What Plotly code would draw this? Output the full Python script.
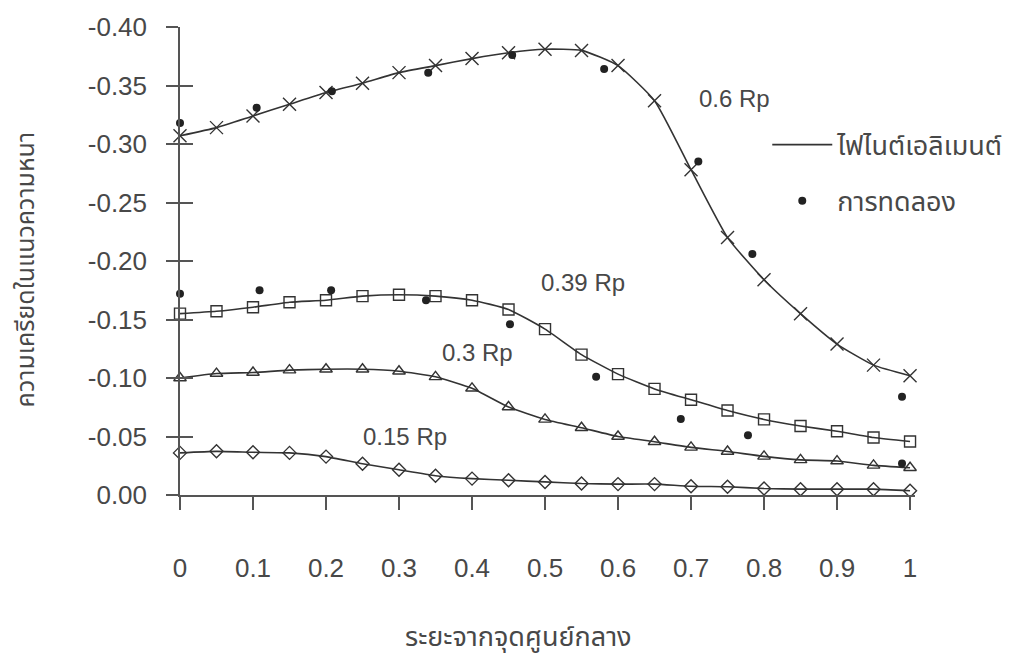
import plotly.graph_objects as go

# ---------------- data ----------------
x_fe = [0.0, 0.05, 0.1, 0.15, 0.2, 0.25, 0.3, 0.35, 0.4, 0.45, 0.5,
        0.55, 0.6, 0.65, 0.7, 0.75, 0.8, 0.85, 0.9, 0.95, 1.0]

fe_06 = [-0.307, -0.314, -0.324, -0.334, -0.344, -0.352, -0.361, -0.367, -0.373, -0.378, -0.381,
         -0.380, -0.367, -0.337, -0.278, -0.220, -0.184, -0.155, -0.129, -0.111, -0.102]
fe_039 = [-0.155, -0.157, -0.1605, -0.1648, -0.1665, -0.170, -0.1712, -0.170, -0.1665, -0.1586, -0.1418,
          -0.120, -0.1033, -0.0907, -0.0814, -0.0722, -0.0646, -0.059, -0.0545, -0.0491, -0.0457]
fe_03 = [-0.100, -0.1038, -0.1047, -0.1067, -0.1075, -0.1075, -0.1058, -0.101, -0.0912, -0.0752, -0.0646,
         -0.0575, -0.050, -0.0455, -0.0407, -0.0372, -0.033, -0.030, -0.029, -0.0253, -0.0233]
fe_015 = [-0.036, -0.0373, -0.0365, -0.036, -0.0328, -0.0267, -0.0216, -0.0165, -0.014, -0.0126, -0.0112,
          -0.0098, -0.0093, -0.0093, -0.0075, -0.007, -0.0056, -0.005, -0.005, -0.005, -0.0036]

exp_x = [0.0, 0.105, 0.208, 0.34, 0.455, 0.581, 0.710, 0.784, 0.989,
         0.0, 0.109, 0.207, 0.337, 0.452, 0.570, 0.686, 0.778, 0.989]
exp_y = [-0.318, -0.331, -0.345, -0.361, -0.376, -0.364, -0.285, -0.206, -0.084,
         -0.172, -0.175, -0.175, -0.1665, -0.146, -0.101, -0.065, -0.051, -0.027]

curve_names = ["0.6 Rp", "0.39 Rp", "0.3 Rp", "0.15 Rp"]
legend_names = ["ไฟไนต์เอลิเมนต์", "การทดลอง"]

x_tick_vals = [0, 0.1, 0.2, 0.3, 0.4, 0.5, 0.6, 0.7, 0.8, 0.9, 1.0]
x_tick_text = ["0", "0.1", "0.2", "0.3", "0.4", "0.5", "0.6", "0.7", "0.8", "0.9", "1"]
y_tick_vals = [0.0, -0.05, -0.10, -0.15, -0.20, -0.25, -0.30, -0.35, -0.40]
y_tick_text = ["0.00", "-0.05", "-0.10", "-0.15", "-0.20", "-0.25", "-0.30", "-0.35", "-0.40"]

x_title = "ระยะจากจุดศูนย์กลาง"
y_title = "ความเครียดในแนวความหนา"

# ---------------- styling ----------------
INK = "#333333"
AXIS = "#555555"
TXT = "#484848"
NUM_FONT = "Liberation Sans, Arial, sans-serif"
THAI_FONT = "Noto Sans Thai, Loma, Garuda, Tlwg Typo, Noto Sans, sans-serif"

symbols = ["x-thin-open", "square-open", "triangle-up-open", "diamond-open"]
sizes = [13, 11, 11, 10]
series = [fe_06, fe_039, fe_03, fe_015]

fig = go.Figure()

for ys, sym, sz, nm in zip(series, symbols, sizes, curve_names):
    fig.add_trace(go.Scatter(
        x=x_fe, y=ys, mode="lines+markers", name=nm, showlegend=False,
        line=dict(color=INK, width=1.6, shape="spline", smoothing=0.5),
        marker=dict(symbol=sym, size=sz, color=INK, line=dict(color=INK, width=1.4)),
        cliponaxis=False,
    ))

# legend-only line entry (on overlay axis)
fig.add_trace(go.Scatter(
    x=[None], y=[None], mode="lines", name=legend_names[0],
    line=dict(color=INK, width=1.6), yaxis="y2", legendgroup="fe",
))

fig.add_trace(go.Scatter(
    x=exp_x, y=exp_y, mode="markers", name=legend_names[1], legendgroup="exp",
    marker=dict(symbol="circle", size=8, color="#222222"),
    cliponaxis=False,
))

# curve labels
label_pos = [(0.759, -0.3385), (0.552, -0.182), (0.408, -0.122), (0.308, -0.0497)]
for (lx, ly), txt in zip(label_pos, curve_names):
    fig.add_annotation(x=lx, y=ly, xref="x", yref="y", text=txt, showarrow=False,
                       xanchor="center", yanchor="middle",
                       font=dict(family=NUM_FONT, size=24, color=TXT))

# axis titles
fig.add_annotation(x=0.463, y=-0.305, xref="x", yref="paper", text=x_title, showarrow=False,
                   xanchor="center", yanchor="middle",
                   font=dict(family=THAI_FONT, size=27, color=TXT))
fig.add_annotation(x=-0.2095, y=0.48, xref="paper", yref="paper", text=y_title, showarrow=False,
                   textangle=-90, xanchor="center", yanchor="middle",
                   font=dict(family=THAI_FONT, size=25, color=TXT))

fig.update_layout(
    width=1026, height=658,
    margin=dict(l=180, r=111, t=20, b=163),
    paper_bgcolor="white", plot_bgcolor="white",
    showlegend=True,
    legend=dict(x=0.799, y=0.80, xanchor="left", yanchor="top",
                bgcolor="rgba(0,0,0,0)", tracegroupgap=18, itemwidth=60,
                font=dict(family=THAI_FONT, size=27, color=TXT)),
    xaxis=dict(range=[0, 1.0068], showline=True, linecolor=AXIS, linewidth=1.5,
               ticks="outside", ticklen=13, tickwidth=1.5, tickcolor=AXIS,
               tickvals=x_tick_vals, ticktext=x_tick_text, ticklabelstandoff=36,
               showgrid=False, zeroline=False,
               tickfont=dict(family=NUM_FONT, size=26, color=TXT)),
    yaxis=dict(range=[0, -0.40], showline=True, linecolor=AXIS, linewidth=1.5,
               ticks="outside", ticklen=12, tickwidth=1.5, tickcolor=AXIS,
               tickvals=y_tick_vals, ticktext=y_tick_text, ticklabelstandoff=14,
               showgrid=False, zeroline=False,
               tickfont=dict(family=NUM_FONT, size=26, color=TXT)),
    yaxis2=dict(range=[0, -0.40], overlaying="y", anchor="x", side="left",
                showline=False, ticks="inside", ticklen=13, tickwidth=1.5, tickcolor=AXIS,
                tickvals=y_tick_vals, showticklabels=False, showgrid=False, zeroline=False),
)

fig.write_html("out.html")
